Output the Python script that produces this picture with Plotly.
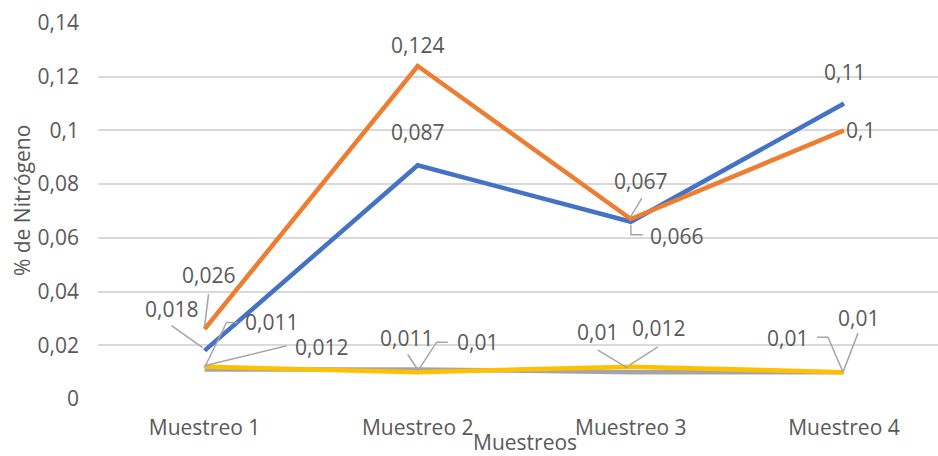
import plotly.graph_objects as go

# Categories and series values (% nitrogen per sampling)
categories = ["Muestreo 1", "Muestreo 2", "Muestreo 3", "Muestreo 4"]
serie_azul = [0.018, 0.087, 0.066, 0.11]
serie_naranja = [0.026, 0.124, 0.067, 0.1]
serie_gris = [0.011, 0.011, 0.01, 0.01]
serie_amarilla = [0.012, 0.01, 0.012, 0.01]
y_ticks = [0, 0.02, 0.04, 0.06, 0.08, 0.1, 0.12, 0.14]

series = [
    ("Azul", serie_azul, "#4472C4"),
    ("Naranja", serie_naranja, "#ED7D31"),
    ("Gris", serie_gris, "#A5A5A5"),
    ("Amarilla", serie_amarilla, "#FFC000"),
]

# Label placement per series/point: (dx, dy) screen offset of label centre in px,
# and an optional leader polyline (screen offsets relative to the data point).
label_layout = {
    "Azul": [
        ((-33, -42), [(-33, -25), (-2, -3)]),
        ((0, -33), None),
        ((46, 14), [(0, 3), (0, 13), (12, 13)]),
        ((0, -32), None),
    ],
    "Naranja": [
        ((4, -54), [(4, -35), (0, -3)]),
        ((0, -21), None),
        ((10, -38), [(11, -21), (-1, -1)]),
        ((16, 0), None),
    ],
    "Gris": [
        ((67, -47), [(33, -47), (22, -47), (0, -2)]),
        ((-11, -31), [(-10, -15), (0, 0)]),
        ((-33, -40), [(-33, -22), (-3, -4)]),
        ((-57, -34), [(-27, -35), (-16, -35), (-1, 0)]),
    ],
    "Amarilla": [
        ((117, -20), [(82, -21), (0, -1)]),
        ((60, -30), [(30, -30), (19, -30), (0, -1)]),
        ((28, -39), [(27, -20), (-1, -2)]),
        ((14, -54), [(14, -39), (-1, 0)]),
    ],
}

TEXT = "#595959"
FONT = "Open Sans"
FS = 21

fig = go.Figure()
for name, vals, color in series:
    fig.add_trace(go.Scatter(
        x=list(range(len(categories))), y=vals, mode="lines", name=name,
        line=dict(color=color, width=4.5), hoverinfo="skip",
    ))

annotations = []
shapes = []
for name, vals, color in series:
    for i, v in enumerate(vals):
        (dx, dy), leader = label_layout[name][i]
        annotations.append(dict(
            x=i, y=v, xref="x", yref="y", text=f"{v:g}".replace(".", ","),
            showarrow=False, xshift=dx, yshift=-dy,
            font=dict(family=FONT, size=FS, color=TEXT),
        ))
        if leader:
            path = "M " + " L ".join(f"{px},{-py}" for px, py in leader)
            shapes.append(dict(
                type="path", xref="x", yref="y", xsizemode="pixel", ysizemode="pixel",
                xanchor=i, yanchor=v, path=path,
                line=dict(color="#A6A6A6", width=1.5),
            ))

# Axis titles
annotations.append(dict(
    x=0.508, y=0, xref="paper", yref="paper", yshift=-43, text="Muestreos",
    showarrow=False, xanchor="center", yanchor="middle", borderpad=0,
    font=dict(family=FONT, size=FS, color=TEXT),
))
annotations.append(dict(
    x=-0.0905, y=0.529, xref="paper", yref="paper", text="% de Nitrógeno", showarrow=False,
    textangle=-90, xanchor="center", yanchor="middle",
    font=dict(family=FONT, size=FS, color=TEXT),
))

fig.update_layout(
    width=938, height=456,
    margin=dict(l=98, r=0, t=23, b=57),
    paper_bgcolor="white", plot_bgcolor="white",
    showlegend=False,
    separators=",.",
    annotations=annotations,
    shapes=shapes,
    font=dict(family=FONT, size=FS, color=TEXT),
)
fig.update_xaxes(
    tickmode="array", tickvals=list(range(len(categories))), ticktext=categories,
    range=[-0.5, 3.441], showgrid=False, zeroline=False, showline=False,
    ticks="", ticklabelstandoff=14,
    tickfont=dict(family=FONT, size=FS, color=TEXT),
)
fig.update_yaxes(
    range=[0, 0.14], tickmode="array", tickvals=y_ticks,
    ticktext=[f"{t:g}".replace(".", ",") for t in y_ticks],
    showgrid=True, gridcolor="#D9D9D9", gridwidth=1.5,
    zeroline=False, showline=False, ticks="", ticklabelstandoff=18,
    tickfont=dict(family=FONT, size=FS, color=TEXT),
)

fig.write_html("out.html")
